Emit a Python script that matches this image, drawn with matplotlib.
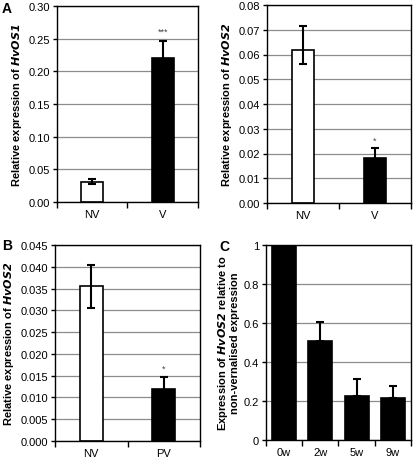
import matplotlib.pyplot as plt
import numpy as np
from matplotlib.ticker import FuncFormatter

plt.rcParams['font.family'] = ['Liberation Sans', 'DejaVu Sans']

# panel A (left): HvOS1, non-vernalised vs vernalised
a1_cats = ["NV", "V"]
a1_vals = [0.031, 0.220]
a1_err_lo = [0.004, 0.026]
a1_err_hi = [0.004, 0.026]

# panel A (right): HvOS2
a2_cats = ["NV", "V"]
a2_vals = [0.0617, 0.0183]
a2_err_lo = [0.0055, 0.004]
a2_err_hi = [0.0100, 0.004]

# panel B: HvOS2, NV vs PV
b_cats = ["NV", "PV"]
b_vals = [0.0355, 0.0119]
b_err_lo = [0.0049, 0.0027]
b_err_hi = [0.0050, 0.0027]

# panel C: weeks of vernalisation
c_cats = ["0w", "2w", "5w", "9w"]
c_vals = [1.0, 0.51, 0.225, 0.213]
c_err = [0.0, 0.095, 0.090, 0.062]

fig = plt.figure(figsize=(4.14, 4.60), dpi=100)

W, H = 414, 460


def px_axes(left, top, right, bottom):
    return fig.add_axes([left / W, 1 - bottom / H, (right - left) / W, (bottom - top) / H])


def draw_panel(ax, cats, vals, err_lo, err_hi, colors, width, ymax, step, fmt, ylabel, star=None):
    x = np.arange(len(cats))
    ax.set_axisbelow(True)
    ax.bar(x, vals, width=width, color=colors, edgecolor="black", linewidth=1.2, zorder=2)
    ax.errorbar(x, vals, yerr=[err_lo, err_hi], fmt="none", ecolor="black",
                elinewidth=1.5, capsize=3, capthick=1.5, zorder=3)
    ax.set_xlim(-0.5, len(cats) - 0.5)
    ax.set_ylim(0, ymax)
    ax.set_yticks(np.arange(0, ymax + step / 2, step))
    ax.yaxis.set_major_formatter(FuncFormatter(fmt))
    ax.yaxis.grid(True, color="#8c8c8c", linewidth=0.9)
    # excel-style ticks at category boundaries, labels in the middle
    ax.set_xticks(np.arange(-0.5, len(cats), 1.0))
    ax.set_xticklabels([])
    ax.set_xticks(x, cats, minor=True)
    ax.tick_params(axis="x", which="major", length=4, width=1, direction="out")
    ax.tick_params(axis="x", which="minor", length=0, pad=5, labelsize=8)
    ax.tick_params(axis="y", length=3, width=1, direction="out", pad=2, labelsize=8)
    for s in ax.spines.values():
        s.set_linewidth(1.0)
        s.set_color("black")
    ax.set_ylabel(ylabel, fontsize=8, fontweight="bold", labelpad=3)
    if star is not None:
        i, yv, txt = star
        ax.text(i, yv, txt, ha="center", va="center", fontsize=6.5, color="#444444")


axA1 = px_axes(57, 7, 198, 203)
draw_panel(axA1, a1_cats, a1_vals, a1_err_lo, a1_err_hi, ["white", "black"], 0.31,
           0.30, 0.05, lambda v, p: f"{v:.2f}",
           r"Relative expression of $\mathbfit{HvOS1}$", star=(1, 0.262, "***"))

axA2 = px_axes(267, 6, 411, 204)
draw_panel(axA2, a2_cats, a2_vals, a2_err_lo, a2_err_hi, ["white", "black"], 0.31,
           0.08, 0.01, lambda v, p: f"{v:.2f}",
           r"Relative expression of $\mathbfit{HvOS2}$", star=(1, 0.0255, "*"))

axB = px_axes(55, 246, 200, 442)
draw_panel(axB, b_cats, b_vals, b_err_lo, b_err_hi, ["white", "black"], 0.32,
           0.045, 0.005, lambda v, p: f"{v:.3f}",
           r"Relative expression of $\mathbfit{HvOS2}$", star=(1, 0.0168, "*"))

axC = px_axes(266, 246, 411, 441)
draw_panel(axC, c_cats, c_vals, [0] * 4, c_err, ["black"] * 4, 0.66,
           1.0, 0.2, lambda v, p: f"{v:g}",
           "Expression of $\\mathbfit{HvOS2}$ relative to\nnon-vernalised expression")
axC.yaxis.label.set_linespacing(0.95)

fig.text(2 / W, 1 - 9 / H, "A", fontsize=10, fontweight="bold", va="center", ha="left")
fig.text(2 / W, 1 - 246 / H, "B", fontsize=10, fontweight="bold", va="center", ha="left")
fig.text(219 / W, 1 - 247 / H, "C", fontsize=10, fontweight="bold", va="center", ha="left")

fig.savefig("out.png", dpi=100)
